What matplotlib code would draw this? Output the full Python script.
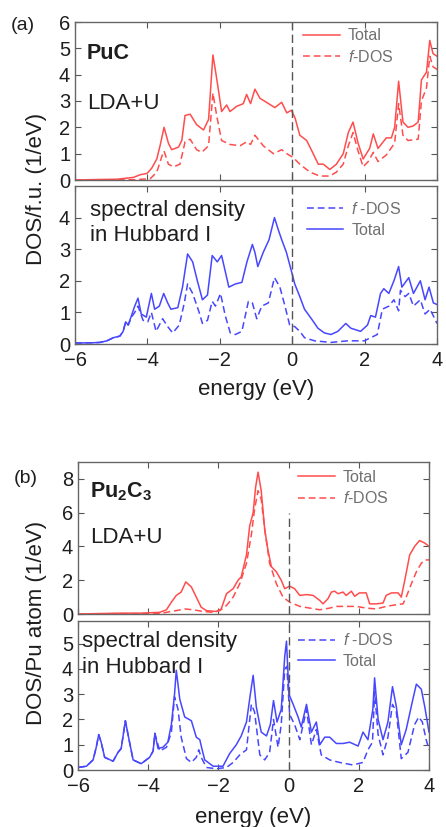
import matplotlib
matplotlib.use("Agg")
import matplotlib.pyplot as plt
from matplotlib.lines import Line2D

plt.rcParams['font.family'] = ['Liberation Sans', 'DejaVu Sans']
plt.rcParams['mathtext.fontset'] = 'custom'
plt.rcParams['mathtext.rm'] = 'Liberation Sans'
plt.rcParams['mathtext.it'] = 'Liberation Sans:italic'
plt.rcParams['mathtext.bf'] = 'Liberation Sans:bold'

# ---------------- data ----------------
# (a) PuC, LDA+U
e_a_lda_tot = [-6.0, -5.3, -4.84, -4.38, -4.2, -4.01, -3.88, -3.74, -3.65, -3.54, -3.42, -3.33, -3.14, -3.05, -2.96,
               -2.82, -2.64, -2.45, -2.31, -2.19, -2.08, -1.95, -1.81, -1.72, -1.53, -1.35, -1.26, -1.15, -1.03, -0.89,
               -0.71, -0.48, -0.29, -0.15, -0.02, 0.08, 0.21, 0.40, 0.58, 0.72, 0.86, 1.04, 1.22, 1.41, 1.55,
               1.68, 1.82, 1.96, 2.14, 2.24, 2.37, 2.60, 2.74, 2.83, 2.94, 3.06, 3.20, 3.34, 3.48, 3.57,
               3.71, 3.80, 3.89, 4.0]
a_lda_tot = [0.0, 0.02, 0.03, 0.1, 0.2, 0.25, 0.45, 0.8, 1.3, 2.0, 1.4, 1.15, 1.25, 1.5, 2.45,
             2.5, 2.1, 1.9, 2.3, 4.75, 3.8, 2.6, 2.85, 2.6, 2.8, 2.9, 3.25, 2.9, 3.45, 3.1,
             2.95, 2.75, 2.95, 2.55, 2.65, 2.35, 1.7, 1.5, 1.0, 0.6, 0.6, 0.4, 0.6, 1.0, 1.8,
             2.2, 1.4, 0.8, 1.2, 1.75, 1.2, 1.6, 1.6, 2.0, 3.75, 2.2, 2.0, 2.05, 2.2, 3.8,
             4.1, 5.3, 4.8, 4.7]
e_a_lda_f = [-6.0, -4.38, -3.92, -3.74, -3.60, -3.54, -3.42, -3.28, -3.10, -2.96, -2.82, -2.64, -2.50, -2.31, -2.19,
             -2.08, -1.95, -1.72, -1.44, -1.26, -1.15, -1.03, -0.80, -0.52, -0.29, -0.15, 0.03, 0.21, 0.49, 0.76,
             1.04, 1.22, 1.41, 1.55, 1.68, 1.82, 1.96, 2.10, 2.24, 2.37, 2.60, 2.83, 2.94, 3.06, 3.20,
             3.48, 3.57, 3.71, 3.80, 3.89, 4.0]
a_lda_f = [0.0, 0.01, 0.05, 0.3, 0.9, 1.1, 0.6, 0.5, 0.6, 1.45, 1.55, 1.15, 1.05, 1.3, 3.3,
           2.4, 1.5, 1.35, 1.3, 1.45, 1.35, 1.7, 1.3, 1.0, 1.15, 1.0, 0.85, 0.6, 0.3, 0.15,
           0.15, 0.3, 0.6, 1.3, 1.8, 1.1, 0.5, 0.7, 1.05, 0.7, 0.95, 1.4, 2.9, 1.7, 1.5,
           1.55, 3.0, 3.5, 4.7, 4.3, 4.2]

# (a) PuC, Hubbard I
e_a_hub_tot = [-6.00, -5.49, -5.31, -5.12, -4.94, -4.76, -4.67, -4.60, -4.53, -4.44, -4.35, -4.26, -4.17, -4.03, -3.89,
               -3.80, -3.67, -3.55, -3.44, -3.35, -3.16, -3.03, -2.89, -2.75, -2.62, -2.48, -2.34, -2.21, -2.07, -1.95,
               -1.85, -1.75, -1.57, -1.39, -1.25, -1.10, -1.03, -0.95, -0.80, -0.64, -0.49, -0.38, -0.29, -0.16, -0.02,
               0.07, 0.21, 0.34, 0.53, 0.71, 0.89, 1.07, 1.26, 1.48, 1.62, 1.89, 2.08, 2.17, 2.30, 2.44,
               2.53, 2.67, 2.81, 2.94, 3.03, 3.22, 3.35, 3.54, 3.67, 3.78, 3.90, 4.00]
a_hub_tot = [0.03, 0.04, 0.05, 0.1, 0.2, 0.25, 0.4, 0.7, 0.6, 0.9, 1.2, 1.45, 0.95, 0.85, 1.6,
             1.1, 1.2, 1.6, 1.3, 1.1, 1.15, 1.8, 2.85, 2.6, 2.0, 1.4, 1.55, 2.8, 2.6, 2.8,
             2.3, 1.8, 1.9, 1.95, 2.6, 3.15, 2.9, 2.45, 2.9, 3.3, 4.0, 3.6, 3.3, 2.9, 2.3,
             1.9, 1.5, 1.1, 0.8, 0.5, 0.35, 0.3, 0.4, 0.65, 0.5, 0.4, 0.6, 0.9, 0.85, 1.6,
             1.75, 1.6, 2.0, 2.45, 1.8, 2.1, 1.6, 2.0, 1.4, 1.8, 1.3, 1.25]
e_a_hub_f = [-6.00, -5.49, -5.31, -5.12, -4.94, -4.76, -4.67, -4.60, -4.53, -4.44, -4.35, -4.26, -4.12, -3.99, -3.89,
             -3.76, -3.58, -3.44, -3.30, -3.12, -2.98, -2.89, -2.75, -2.57, -2.48, -2.34, -2.21, -2.12, -1.98, -1.85,
             -1.71, -1.57, -1.39, -1.21, -1.10, -0.98, -0.84, -0.66, -0.49, -0.34, -0.20, -0.07, 0.07, 0.21, 0.34,
             0.62, 1.07, 1.53, 1.99, 2.35, 2.49, 2.67, 2.81, 2.94, 2.99, 3.12, 3.22, 3.35, 3.54, 3.67,
             3.81, 4.00]
a_hub_f = [0.03, 0.04, 0.05, 0.1, 0.2, 0.25, 0.4, 0.7, 0.6, 0.85, 1.0, 1.2, 0.75, 0.7, 1.0,
           0.4, 0.8, 0.55, 0.35, 0.6, 1.3, 1.9, 1.6, 1.0, 0.65, 0.75, 1.35, 1.2, 1.6, 0.9,
           0.35, 0.3, 0.4, 1.35, 1.3, 0.8, 1.2, 1.3, 2.1, 1.8, 1.2, 0.6, 0.55, 0.4, 0.2,
           0.1, 0.05, 0.1, 0.1, 0.3, 1.1, 1.2, 1.4, 1.05, 1.7, 1.5, 1.6, 1.2, 1.4, 0.95,
           1.1, 0.65]

# (b) Pu2C3, LDA+U
e_b_lda_tot = [-6.00, -4.81, -4.24, -3.67, -3.48, -3.34, -3.20, -3.06, -2.93, -2.77, -2.63, -2.49, -2.34, -2.06, -1.92,
               -1.77, -1.58, -1.44, -1.35, -1.20, -1.11, -1.01, -0.94, -0.87, -0.78, -0.68, -0.59, -0.49, -0.35, -0.21,
               -0.11, 0.03, 0.17, 0.32, 0.51, 0.70, 0.89, 0.98, 1.12, 1.22, 1.31, 1.41, 1.55, 1.64, 1.79,
               1.88, 2.02, 2.21, 2.31, 2.50, 2.69, 2.78, 2.93, 3.12, 3.21, 3.31, 3.45, 3.59, 3.73, 3.88,
               4.00]
b_lda_tot = [0.0, 0.05, 0.05, 0.1, 0.25, 0.7, 1.1, 1.3, 1.9, 1.6, 1.0, 0.4, 0.2, 0.15, 0.3,
             1.2, 1.5, 2.0, 2.2, 3.5, 5.2, 6.0, 7.5, 8.4, 7.3, 5.0, 3.8, 2.8, 2.5, 2.0,
             1.5, 1.65, 1.5, 1.1, 1.15, 1.1, 0.8, 0.6, 0.9, 1.3, 1.35, 1.2, 1.3, 1.1, 1.35,
             1.05, 1.25, 1.25, 0.6, 0.6, 0.65, 1.1, 1.25, 1.25, 1.0, 2.0, 3.5, 4.0, 4.35, 4.2,
             4.0]
e_b_lda_f = [-6.00, -4.81, -3.67, -3.48, -3.20, -2.96, -2.72, -2.44, -2.15, -1.96, -1.77, -1.58, -1.39, -1.20, -1.06,
             -0.97, -0.87, -0.78, -0.68, -0.54, -0.35, -0.16, 0.03, 0.32, 0.60, 0.89, 1.17, 1.36, 1.64, 1.93,
             2.21, 2.50, 2.78, 3.07, 3.26, 3.35, 3.50, 3.64, 3.78, 3.88, 4.00]
b_lda_f = [0.0, 0.02, 0.02, 0.1, 0.2, 0.3, 0.25, 0.15, 0.1, 0.2, 0.5, 1.0, 1.8, 3.0, 4.7,
           6.2, 7.3, 6.8, 5.0, 3.0, 1.8, 1.0, 0.7, 0.45, 0.35, 0.25, 0.35, 0.45, 0.45, 0.45,
           0.35, 0.3, 0.45, 0.55, 0.6, 1.0, 1.8, 2.5, 3.0, 3.2, 3.2]

# (b) Pu2C3, Hubbard I
e_b_hub_tot = [-6.00, -5.76, -5.57, -5.48, -5.41, -5.34, -5.24, -5.00, -4.86, -4.77, -4.65, -4.56, -4.43, -4.20, -3.96,
               -3.86, -3.81, -3.72, -3.58, -3.44, -3.34, -3.25, -3.20, -3.10, -2.96, -2.77, -2.63, -2.53, -2.48, -2.39,
               -2.15, -1.87, -1.68, -1.49, -1.35, -1.20, -1.09, -1.01, -0.92, -0.78, -0.63, -0.52, -0.43, -0.33, -0.21,
               -0.11, -0.06, 0.01, 0.13, 0.27, 0.36, 0.51, 0.65, 0.79, 0.89, 1.03, 1.17, 1.36, 1.55, 1.74,
               1.98, 2.12, 2.26, 2.40, 2.45, 2.55, 2.69, 2.83, 2.96, 3.07, 3.21, 3.35, 3.54, 3.64, 3.78,
               3.88, 4.00]
b_hub_tot = [0.1, 0.15, 0.4, 0.9, 1.4, 1.1, 0.5, 0.35, 0.7, 0.85, 1.95, 1.3, 0.4, 0.25, 0.5,
             0.75, 1.45, 0.85, 0.9, 1.1, 1.8, 3.0, 3.95, 2.8, 2.1, 1.95, 1.3, 1.2, 0.9, 0.4,
             0.15, 0.15, 0.65, 1.0, 1.35, 1.9, 3.0, 3.75, 2.5, 1.5, 1.35, 1.8, 2.75, 1.9, 2.4,
             4.5, 5.1, 3.0, 2.6, 2.1, 1.7, 2.6, 1.5, 1.9, 1.0, 1.3, 1.3, 1.05, 1.05, 1.1,
             0.95, 1.5, 1.2, 2.4, 3.65, 2.0, 1.2, 1.9, 3.3, 2.5, 1.0, 1.6, 2.8, 3.4, 3.2,
             2.5, 1.5]
e_b_hub_f = [-6.00, -5.76, -5.57, -5.48, -5.41, -5.34, -5.24, -5.00, -4.86, -4.77, -4.65, -4.56, -4.43, -4.20, -3.96,
             -3.86, -3.81, -3.67, -3.48, -3.34, -3.25, -3.15, -3.06, -2.91, -2.77, -2.63, -2.56, -2.49, -2.34, -2.06,
             -1.77, -1.58, -1.39, -1.20, -1.06, -0.97, -0.82, -0.68, -0.54, -0.43, -0.30, -0.21, -0.11, -0.05, 0.03,
             0.17, 0.32, 0.51, 0.65, 0.79, 0.93, 1.17, 1.45, 1.83, 2.12, 2.26, 2.39, 2.45, 2.55, 2.69,
             2.83, 2.96, 3.07, 3.21, 3.40, 3.59, 3.71, 3.81, 3.92, 4.00]
b_hub_f = [0.1, 0.15, 0.4, 0.9, 1.4, 1.1, 0.5, 0.35, 0.7, 0.85, 1.95, 1.3, 0.4, 0.25, 0.5,
           0.75, 1.45, 0.75, 0.9, 1.5, 2.9, 2.4, 1.3, 0.45, 0.3, 0.5, 0.8, 0.5, 0.1, 0.05,
           0.1, 0.3, 0.6, 0.8, 2.6, 2.3, 0.6, 0.4, 0.7, 2.0, 0.9, 1.8, 4.0, 4.1, 2.2,
           1.8, 1.2, 2.4, 1.0, 1.6, 0.6, 0.4, 0.3, 0.2, 0.3, 0.8, 1.1, 3.1, 1.4, 0.6,
           1.3, 2.6, 2.3, 0.45, 0.7, 1.8, 2.1, 1.9, 1.2, 0.8]

x_ticks = [-6, -4, -2, 0, 2, 4]
fermi = 0.0

# ---------------- style ----------------
RED = '#ff4d4d'
BLUE = '#4747ff'
GREY = '#555555'
TXT = '#1e1e1e'
DASH = (0, (4.5, 2.5))
LW = 1.1
W, H = 446, 827


def make_ax(left, top, right, bottom):
    return fig.add_axes([left / W, 1 - bottom / H, (right - left) / W, (bottom - top) / H])


def style(ax, ylim, yticks, show_x):
    ax.set_xlim(-6, 4)
    ax.set_ylim(*ylim)
    ax.set_xticks(x_ticks)
    ax.set_yticks(yticks)
    ax.tick_params(direction='in', top=True, right=True, length=4, width=0.8,
                   labelsize=14.5, colors=TXT, labelbottom=show_x)
    ax.tick_params(axis='x', pad=5)
    ax.tick_params(axis='y', pad=3.5)
    ax.tick_params(axis='both', color=GREY)
    for s in ax.spines.values():
        s.set_color('#666666')
        s.set_linewidth(1.0)


def legend(ax, color, order, x, y, flabel):
    h_tot = Line2D([], [], color=color, lw=LW)
    h_f = Line2D([], [], color=color, lw=LW, linestyle=DASH)
    if order == 'tf':
        hs, ls = [h_tot, h_f], ['Total', flabel]
    else:
        hs, ls = [h_f, h_tot], [flabel, 'Total']
    ax.legend(hs, ls, loc='upper left', bbox_to_anchor=(x, y), frameon=False,
              fontsize=11.5, labelcolor='#707070', handlelength=2.3, handletextpad=0.5,
              borderpad=0, borderaxespad=0, labelspacing=0.35)


def ftext(x, y, s, **kw):
    fig.text(x / W, 1 - y / H, s, color=TXT, **kw)


fig = plt.figure(figsize=(W / 100, H / 100), dpi=100)

# (a) top
ax1 = make_ax(75, 22, 437, 180)
ax1.plot(e_a_lda_tot, a_lda_tot, color=RED, lw=LW)
ax1.plot(e_a_lda_f, a_lda_f, color=RED, lw=LW, linestyle=DASH)
ax1.axvline(fermi, color=GREY, lw=1.0, linestyle=(0, (6, 3)))
style(ax1, (0, 6), range(0, 7), False)
legend(ax1, RED, 'tf', 0.63, 0.96, r'$f$-DOS')

# (a) bottom
ax2 = make_ax(75, 186, 437, 344)
ax2.plot(e_a_hub_f, a_hub_f, color=BLUE, lw=LW, linestyle=DASH)
ax2.plot(e_a_hub_tot, a_hub_tot, color=BLUE, lw=LW)
ax2.axvline(fermi, color=GREY, lw=1.0, linestyle=(0, (6, 3)))
style(ax2, (0, 5), range(0, 5), True)
legend(ax2, BLUE, 'ft', 0.64, 0.905, r'$f$ -DOS')

# (b) top
ax3 = make_ax(78, 462, 429, 614)
ax3.plot(e_b_lda_tot, b_lda_tot, color=RED, lw=LW)
ax3.plot(e_b_lda_f, b_lda_f, color=RED, lw=LW, linestyle=DASH)
ax3.vlines(fermi, 0, 6, color=GREY, lw=1.0, linestyle=(0, (6, 3)))
style(ax3, (0, 9), range(0, 9, 2), False)
legend(ax3, RED, 'tf', 0.627, 0.95, r'$f$-DOS')

# (b) bottom
ax4 = make_ax(78, 621, 429, 770)
ax4.plot(e_b_hub_f, b_hub_f, color=BLUE, lw=LW, linestyle=DASH)
ax4.plot(e_b_hub_tot, b_hub_tot, color=BLUE, lw=LW)
ax4.axvline(fermi, color=GREY, lw=1.0, linestyle=(0, (6, 3)))
style(ax4, (0, 5.9), range(0, 6), True)
legend(ax4, BLUE, 'ft', 0.627, 0.925, r'$f$ -DOS')

# annotations (baseline positions in pixels)
ftext(87, 59, 'PuC', fontsize=15.5, fontweight='bold', va='baseline')
ftext(87, 109, 'LDA+U', fontsize=16, va='baseline')
ftext(90, 216, 'spectral density', fontsize=16, va='baseline')
ftext(90, 241, 'in Hubbard I', fontsize=16, va='baseline')
ftext(90, 497, r'$\mathbf{Pu_2C_3}$', fontsize=15.5, va='baseline')
ftext(90, 543, 'LDA+U', fontsize=16, va='baseline')
ftext(82, 647, 'spectral density', fontsize=16, va='baseline')
ftext(82, 673, 'in Hubbard I', fontsize=16, va='baseline')

# figure-level labels
ftext(23, 25, '(a)', fontsize=14, ha='center', va='center')
ftext(26, 478, '(b)', fontsize=14, ha='center', va='center')
ftext(36.5, 189, 'DOS/f.u. (1/eV)', rotation=90, fontsize=16, ha='center', va='center')
ftext(36.5, 623, 'DOS/Pu atom (1/eV)', rotation=90, fontsize=16, ha='center', va='center')
ftext(256, 390, 'energy (eV)', fontsize=16, ha='center', va='center')
ftext(253, 817, 'energy (eV)', fontsize=16, ha='center', va='center')

fig.savefig('out.png', dpi=100, facecolor='white')
